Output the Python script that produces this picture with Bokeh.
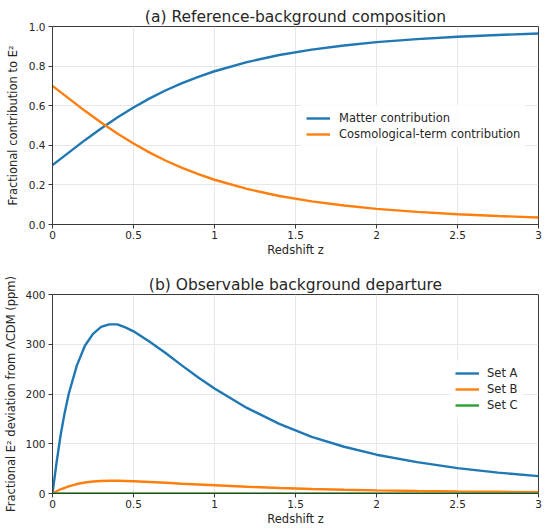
from bokeh.plotting import figure
from bokeh.layouts import column
from bokeh.models import Range1d, FixedTicker, Legend, LegendItem
from bokeh.embed import file_html
from bokeh.resources import INLINE

# ---- data ----
z_top = [0, 0.1, 0.2, 0.3, 0.4, 0.5, 0.6, 0.7, 0.8, 0.9, 1.0, 1.2, 1.4, 1.6, 1.8,
         2.0, 2.25, 2.5, 2.75, 3.0]
matter = [0.300, 0.363, 0.426, 0.485, 0.540, 0.591, 0.637, 0.678, 0.714, 0.746,
          0.774, 0.820, 0.856, 0.883, 0.904, 0.921, 0.936, 0.948, 0.957, 0.965]
cosmo = [0.700, 0.637, 0.574, 0.515, 0.460, 0.409, 0.363, 0.322, 0.286, 0.254,
         0.226, 0.180, 0.144, 0.117, 0.096, 0.079, 0.064, 0.052, 0.043, 0.035]

z_bot = [0, 0.025, 0.05, 0.075, 0.1, 0.15, 0.2, 0.25, 0.3, 0.35, 0.4, 0.45, 0.5,
         0.6, 0.7, 0.8, 0.9, 1.0, 1.2, 1.4, 1.6, 1.8, 2.0, 2.25, 2.5, 2.75, 3.0]
set_a = [0, 62, 117, 162, 200, 257, 297, 321, 335, 340, 340, 334, 326,
         305, 282, 257, 233, 211, 172, 140, 114, 94, 78, 63, 51, 42, 35]
set_b = [0, 4.5, 8.5, 11.5, 14.5, 19, 22, 24, 25, 25.5, 25.5, 25, 24.5,
         23, 21.5, 19.5, 18, 16.5, 13.5, 11, 9, 7.5, 6.2, 5, 4.1, 3.4, 2.8]
set_c = [0, 0.02, 0.04, 0.05, 0.06, 0.07, 0.08, 0.09, 0.09, 0.09, 0.09, 0.09, 0.09,
         0.08, 0.08, 0.07, 0.07, 0.06, 0.05, 0.04, 0.03, 0.03, 0.02, 0.02, 0.02, 0.01, 0.01]

x_ticks = [0, 0.5, 1, 1.5, 2, 2.5, 3]
x_tick_labels = ["0", "0.5", "1", "1.5", "2", "2.5", "3"]
y_ticks_top = [0, 0.2, 0.4, 0.6, 0.8, 1.0]
y_tick_labels_top = ["0.0", "0.2", "0.4", "0.6", "0.8", "1.0"]
y_ticks_bot = [0, 100, 200, 300, 400]
y_tick_labels_bot = ["0", "100", "200", "300", "400"]

BLUE = "#1f77b4"
ORANGE = "#ff7f0e"
GREEN = "#2ca02c"
FONT = "DejaVu Sans"
DARK = "#262626"
SPINE = "#3a3a3a"
GRID = "#e8e8e8"


def style(p, xt, xl, yt, yl, ylabel, tick_standoff, label_standoff):
    p.title.text_font = FONT
    p.title.text_font_size = "15.5px"
    p.title.text_font_style = "normal"
    p.title.text_color = DARK
    p.title.align = "center"
    p.title.standoff = 2
    p.outline_line_color = SPINE
    p.outline_line_width = 1
    for ax in (p.xaxis[0], p.yaxis[0]):
        ax.axis_line_color = SPINE
        ax.major_tick_line_color = SPINE
        ax.major_tick_out = 4
        ax.major_tick_in = 0
        ax.minor_tick_line_color = None
        ax.major_label_text_font = FONT
        ax.major_label_text_font_size = "10.5px"
        ax.major_label_text_color = DARK
        ax.axis_label_text_font = FONT
        ax.axis_label_text_font_size = "11.5px"
        ax.axis_label_text_font_style = "normal"
        ax.axis_label_text_color = DARK
    p.xaxis.ticker = FixedTicker(ticks=xt)
    p.xaxis.major_label_overrides = {t: s for t, s in zip(xt, xl)}
    p.yaxis.ticker = FixedTicker(ticks=yt)
    p.yaxis.major_label_overrides = {t: s for t, s in zip(yt, yl)}
    p.xaxis.axis_label = "Redshift z"
    p.yaxis.axis_label = ylabel
    p.xaxis.major_label_standoff = 2
    p.xaxis.axis_label_standoff = 1
    p.yaxis.major_label_standoff = tick_standoff
    p.yaxis.axis_label_standoff = label_standoff
    p.xgrid.grid_line_color = GRID
    p.ygrid.grid_line_color = GRID
    p.xgrid.ticker = FixedTicker(ticks=xt)
    p.ygrid.ticker = FixedTicker(ticks=yt)
    p.background_fill_color = "white"
    p.border_fill_color = "white"


# ---- top panel ----
p1 = figure(width=546, height=262, output_backend="svg", toolbar_location=None,
            x_range=Range1d(0, 3), y_range=Range1d(0, 1),
            title="(a) Reference-background composition",
            min_border_left=52, min_border_right=8, min_border_top=26,
            min_border_bottom=38)
style(p1, x_ticks, x_tick_labels, y_ticks_top, y_tick_labels_top,
      "Fractional contribution to E²", 3, 6)
r_m = p1.line(z_top, matter, line_color=BLUE, line_width=2.4)
r_c = p1.line(z_top, cosmo, line_color=ORANGE, line_width=2.4)
leg1 = Legend(items=[LegendItem(label="Matter contribution", renderers=[r_m]),
                     LegendItem(label="Cosmological-term contribution", renderers=[r_c])],
              location=(249, 77), padding=5, spacing=0, glyph_width=24, glyph_height=16,
              label_height=16, label_standoff=9, label_text_font=FONT,
              label_text_font_size="11.5px", label_text_color=DARK,
              border_line_alpha=0, background_fill_alpha=0.8, margin=0)
p1.add_layout(leg1)

# ---- bottom panel ----
p2 = figure(width=546, height=269, output_backend="svg", toolbar_location=None,
            x_range=Range1d(0, 3), y_range=Range1d(0, 400),
            title="(b) Observable background departure",
            min_border_left=50, min_border_right=6, min_border_top=32,
            min_border_bottom=38)
style(p2, x_ticks, x_tick_labels, y_ticks_bot, y_tick_labels_bot,
      "Fractional E² deviation from ΛCDM (ppm)", 3, 4)
r_a = p2.line(z_bot, set_a, line_color=BLUE, line_width=2.4)
r_b = p2.line(z_bot, set_b, line_color=ORANGE, line_width=2.4)
r_cc = p2.line(z_bot, set_c, line_color=GREEN, line_width=2.4)
leg2 = Legend(items=[LegendItem(label="Set A", renderers=[r_a]),
                     LegendItem(label="Set B", renderers=[r_b]),
                     LegendItem(label="Set C", renderers=[r_cc])],
              location=(398, 75), padding=5, spacing=0, glyph_width=24, glyph_height=16,
              label_height=16, label_standoff=8, label_text_font=FONT,
              label_text_font_size="11.5px", label_text_color=DARK,
              border_line_alpha=0, background_fill_alpha=0.8, margin=0)
p2.add_layout(leg2)

layout = column(p1, p2, spacing=0)
open("out.html", "w").write(file_html(layout, INLINE))
